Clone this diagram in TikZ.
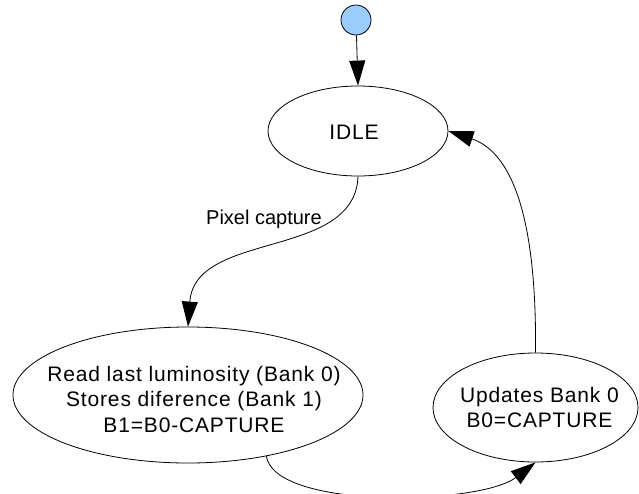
\documentclass[tikz,border=0pt]{standalone}
\usepackage{fontspec}
\setmainfont{Liberation Sans}
\newfontfamily\statefont{Liberation Sans}[LetterSpace=4]
\usetikzlibrary{shapes.geometric,arrows.meta}
\definecolor{startblue}{RGB}{153,204,255}
% #1 horizontal shift, #2 vertical lift, #3 lines
\newcommand{\stlines}[3]{\makebox[0pt]{\hspace*{#1}\raisebox{#2}[0pt][0pt]{\begin{tabular}{@{}c@{}}#3\end{tabular}}}}
\tikzset{
  statenode/.style={draw=black, line width=0.8pt, ellipse, inner sep=0pt,
    font=\statefont\fontsize{21}{25.5}\selectfont},
  startnode/.style={draw=black, line width=0.8pt, circle, fill=startblue, minimum size=30pt, inner sep=0pt},
  conn/.style={draw=black, line width=0.8pt, -{Triangle[length=25pt,width=16pt]}},
  lbl/.style={font=\fontsize{20}{24}\selectfont, inner sep=0pt}
}
\begin{document}
\begin{tikzpicture}[x=1pt,y=-1pt]
\useasboundingbox (0,0) rectangle (639,493);
\node[startnode] (start) at (356,20) {};
\node[statenode, minimum width=180pt, minimum height=90pt] (idle) at (358,131)
  {\stlines{-8pt}{-8.6pt}{IDLE}};
\node[statenode, minimum width=350pt, minimum height=136pt] (read) at (188,395)
  {\stlines{12pt}{-12pt}{Read last luminosity (Bank 0)\\Stores diference (Bank 1)\\B1=B0-CAPTURE}};
\node[statenode, minimum width=205pt, minimum height=109pt] (upd) at (535.5,407.5)
  {\stlines{8pt}{-7.6pt}{Updates Bank 0\\B0=CAPTURE}};
\node[lbl, anchor=base] (pc) at (264,224) {Pixel capture};
\draw[conn] (start) -- (idle.north);
\draw[conn] (idle.south) .. controls (355,260) and (195,230) .. (read.north);
\draw[conn] (read.-38) .. controls (275,510) and (480,505) .. (upd.south);
\draw[conn] (upd.north) .. controls (537,200) and (505,150) .. (idle.east);
\end{tikzpicture}
\end{document}
